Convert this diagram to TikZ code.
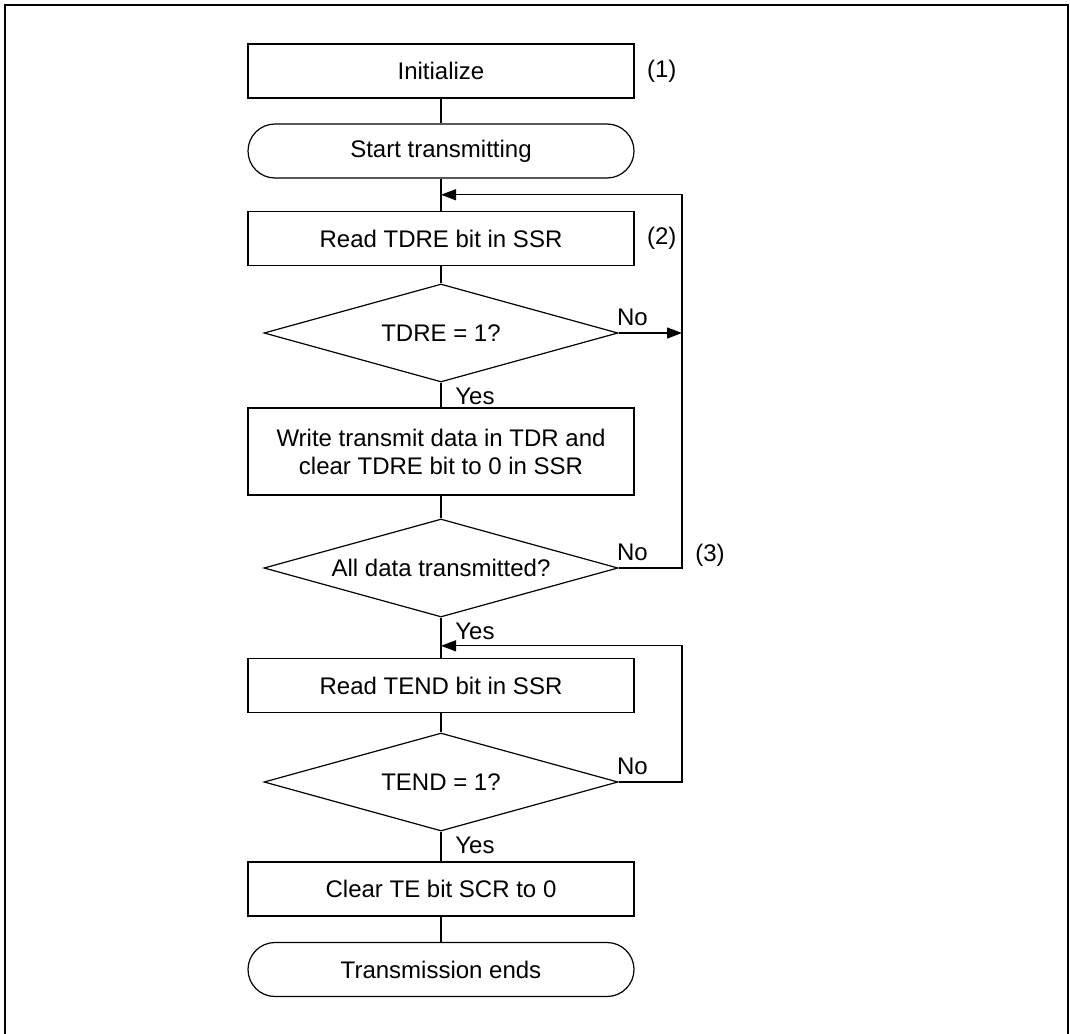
\documentclass[tikz,border=0pt]{standalone}
\usepackage{fontspec}
\setmainfont{Liberation Sans}
\usetikzlibrary{arrows.meta, positioning, calc, shapes}

\begin{document}
\begin{tikzpicture}[x=0.5pt, y=-0.5pt,
  every node/.style={font=\fontsize{12}{14}\selectfont},
  procbox/.style={draw, line width=0.6pt, minimum width=193pt, minimum height=27pt, inner sep=2pt, align=center},
  termbox/.style={draw, line width=0.6pt, rounded corners=13.5pt, minimum width=193pt, minimum height=27pt},
  decbox/.style={draw, line width=0.6pt, diamond, aspect=3.6, inner sep=0pt, minimum width=177pt, minimum height=49pt},
  link/.style={line width=0.6pt},
  linkarr/.style={link, -{Triangle[length=7.5pt, width=5.5pt]}},
  branch/.style={inner sep=0pt},
  stepno/.style={inner sep=0pt}]
  \useasboundingbox (0,0) rectangle (1070,1033);

  % Frame
  \draw[line width=1pt] (5,1040) -- (5,5) -- (1068,5) -- (1068,1040);

  % Steps
  \node[procbox] (init) at (441,71) {Initialize};
  \node[termbox] (start) at (441,151) {Start transmitting};
  \node[procbox] (rdtdre) at (441,238.5) {Read TDRE bit in SSR};
  \node[decbox] (chk1) at (441,333) {TDRE = 1?};
  \node[procbox, minimum height=43.5pt] (write) at (441,451.5) {Write transmit data in TDR and\\clear TDRE bit to 0 in SSR};
  \node[decbox] (chk2) at (441,568) {All data transmitted?};
  \node[procbox] (rdtend) at (441,685.5) {Read TEND bit in SSR};
  \node[decbox] (chk3) at (441,782) {TEND = 1?};
  \node[procbox] (clrte) at (441,889) {Clear TE bit SCR to 0};
  \node[termbox] (done) at (441,969.5) {Transmission ends};

  % Step numbers
  \node[stepno, right=6pt of init] (n1) {(1)};
  \node[stepno, right=6pt of rdtdre] (n2) {(2)};

  % Join points
  \coordinate (rail) at (682,0);
  \coordinate (joinA) at ($(start.south)!0.5!(rdtdre.north)$);
  \coordinate (joinB) at ($(chk2.south)!0.7!(rdtend.north)$);

  % Main flow
  \draw[link] (init) -- (start);
  \draw[link] (start) -- (rdtdre);
  \draw[link] (rdtdre) -- (chk1);
  \draw[link] (chk1) -- (write);
  \draw[link] (write) -- (chk2);
  \draw[link] (chk2) -- (rdtend);
  \draw[link] (rdtend) -- (chk3);
  \draw[link] (chk3) -- (clrte);
  \draw[link] (clrte) -- (done);

  % Branches
  \draw[linkarr] (chk1.east) -- (chk1.east -| rail);
  \draw[linkarr] (chk2.east) -- (chk2.east -| rail) |- (joinA);
  \draw[linkarr] (chk3.east) -- (chk3.east -| rail) |- (joinB);

  % Branch labels
  \node[branch, anchor=south west, xshift=-1pt, yshift=3.5pt] (no1) at (chk1.east) {No};
  \node[branch, anchor=south west, xshift=-1pt, yshift=3.5pt] (no2) at (chk2.east) {No};
  \node[branch, anchor=south west, xshift=-1pt, yshift=3.5pt] (no3) at (chk3.east) {No};
  \node[branch, anchor=north west, xshift=7pt, yshift=-2.5pt] (yes1) at (chk1.south) {Yes};
  \node[branch, anchor=north west, xshift=7pt, yshift=-2.5pt] (yes2) at (chk2.south) {Yes};
  \node[branch, anchor=north west, xshift=7pt, yshift=-2.5pt] (yes3) at (chk3.south) {Yes};
  \node[stepno, anchor=west] (n3) at ($(chk2.east -| rail)+(13,-13)$) {(3)};

\end{tikzpicture}
\end{document}
